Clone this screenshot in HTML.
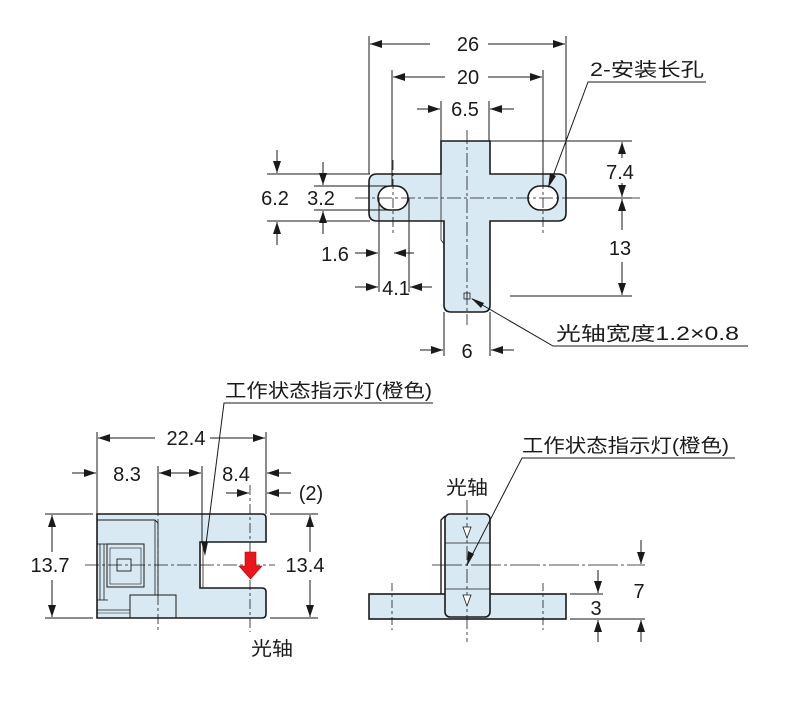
<!DOCTYPE html>
<html><head><meta charset="utf-8"><style>
html,body{margin:0;padding:0;background:#fff;}
svg{display:block;}
text{font-family:"Liberation Sans","Noto Sans CJK SC",sans-serif;fill:#1a1a1a;}
</style></head><body>
<svg width="800" height="702" viewBox="0 0 800 702" xmlns="http://www.w3.org/2000/svg">
<defs>
<marker id="a" viewBox="0 0 12 8" refX="12" refY="4" markerWidth="12" markerHeight="8" markerUnits="userSpaceOnUse" orient="auto"><path d="M0,0 L12,4 L0,8 Z" fill="#1a1a1a"/></marker>
</defs>
<g stroke="#1a1a1a" stroke-width="1" fill="none">
<!-- ===== TOP VIEW ===== -->
<path d="M377,174 H441 V141 H490 V174 H558 Q566,174 566,182 V213 Q566,221 558,221 H490 V305 Q490,312 483,312 H451 Q444,312 444,305 V221 H377 Q369,221 369,213 V182 Q369,174 377,174 Z" fill="#d9e9f3" stroke-width="1.6"/>
<path d="M441,141 V240 L444,244" stroke-width="0.8"/>
<rect x="378" y="186" width="30" height="24" rx="12" fill="#fff" stroke-width="1.6"/>
<rect x="528" y="186" width="30" height="24" rx="12" fill="#fff" stroke-width="1.6"/>
<line x1="355" y1="198" x2="640" y2="198" stroke-dasharray="14,3,3,3" stroke-width="0.8"/>
<line x1="467" y1="130" x2="467" y2="325" stroke-dasharray="14,3,3,3" stroke-width="0.8"/>
<line x1="393" y1="160" x2="393" y2="235" stroke-dasharray="10,3,3,3" stroke-width="0.8"/>
<line x1="543" y1="160" x2="543" y2="235" stroke-dasharray="10,3,3,3" stroke-width="0.8"/>
<rect x="464" y="293" width="6" height="6" stroke-width="0.8"/>
<line x1="467" y1="293" x2="467" y2="299" stroke-width="0.6"/>
<line x1="369" y1="36" x2="369" y2="174"/>
<line x1="566" y1="36" x2="566" y2="174"/>
<line x1="392" y1="70" x2="392" y2="186"/>
<line x1="543" y1="70" x2="543" y2="186"/>
<line x1="441" y1="101" x2="441" y2="141"/>
<line x1="489" y1="101" x2="489" y2="141"/>
<line x1="430" y1="44" x2="370" y2="44" marker-end="url(#a)"/>
<line x1="488" y1="44" x2="565" y2="44" marker-end="url(#a)"/>
<line x1="445" y1="77" x2="393" y2="77" marker-end="url(#a)"/>
<line x1="488" y1="77" x2="542" y2="77" marker-end="url(#a)"/>
<line x1="417" y1="109" x2="440" y2="109" marker-end="url(#a)"/>
<line x1="514" y1="109" x2="490" y2="109" marker-end="url(#a)"/>
<line x1="490" y1="141" x2="632" y2="141"/>
<line x1="566" y1="198" x2="632" y2="198"/>
<line x1="510" y1="296" x2="632" y2="296"/>
<line x1="622" y1="158" x2="622" y2="142" marker-end="url(#a)"/>
<line x1="622" y1="183" x2="622" y2="197" marker-end="url(#a)"/>
<line x1="622" y1="230" x2="622" y2="199" marker-end="url(#a)"/>
<line x1="622" y1="262" x2="622" y2="295" marker-end="url(#a)"/>
<line x1="267" y1="174" x2="370" y2="174"/>
<line x1="267" y1="221" x2="370" y2="221"/>
<line x1="277" y1="150" x2="277" y2="173" marker-end="url(#a)"/>
<line x1="277" y1="245" x2="277" y2="222" marker-end="url(#a)"/>
<line x1="314" y1="186" x2="393" y2="186"/>
<line x1="314" y1="210" x2="393" y2="210"/>
<line x1="323" y1="162" x2="323" y2="185" marker-end="url(#a)"/>
<line x1="323" y1="234" x2="323" y2="211" marker-end="url(#a)"/>
<line x1="379" y1="198" x2="379" y2="292"/>
<line x1="409" y1="198" x2="409" y2="292"/>
<line x1="355" y1="253" x2="378" y2="253" marker-end="url(#a)"/>
<line x1="414" y1="253" x2="394" y2="253" marker-end="url(#a)"/>
<line x1="355" y1="287" x2="378" y2="287" marker-end="url(#a)"/>
<line x1="432" y1="287" x2="410" y2="287" marker-end="url(#a)"/>
<line x1="444" y1="312" x2="444" y2="356"/>
<line x1="490" y1="312" x2="490" y2="356"/>
<line x1="420" y1="350" x2="443" y2="350" marker-end="url(#a)"/>
<line x1="514" y1="350" x2="491" y2="350" marker-end="url(#a)"/>
<polyline points="706,82 588,82 550,184" />
<polyline points="748,346 553,346 472,299"/>

<!-- ===== BOTTOM LEFT ===== -->
<path d="M97,514 H262 Q266,514 266,518 V542 H200 V588 H262 Q266,588 266,592 V614 Q266,618 262,618 H180 L178,618 H97 Z" fill="#d9e9f3" stroke-width="1.6"/>
<path d="M97,520 H155 L158,523 V595" stroke-width="0.9"/>
<line x1="155" y1="520" x2="155" y2="595" stroke-width="0.8"/>
<line x1="203" y1="542" x2="203" y2="588" stroke-width="0.8"/>
<line x1="100" y1="544" x2="100" y2="600" stroke-width="0.8"/>
<line x1="104" y1="544" x2="104" y2="600" stroke-width="0.8"/>
<line x1="97" y1="544" x2="108" y2="544" stroke-width="0.8"/>
<line x1="97" y1="600" x2="108" y2="600" stroke-width="0.8"/>
<rect x="107" y="544" width="37" height="43" stroke-width="1"/>
<rect x="110" y="548" width="31" height="36" stroke-width="0.6"/>
<rect x="117" y="559" width="14" height="12" stroke-width="0.9"/>
<rect x="130" y="595" width="46" height="23" stroke-width="1"/>
<line x1="97" y1="610" x2="130" y2="610" stroke-width="0.8"/>
<line x1="97" y1="613" x2="130" y2="613" stroke-width="0.5"/>
<line x1="85" y1="565" x2="275" y2="565" stroke-dasharray="14,3,3,3" stroke-width="0.8"/>
<line x1="158" y1="500" x2="158" y2="632" stroke-dasharray="10,3,3,3" stroke-width="0.8"/>
<line x1="250" y1="485" x2="250" y2="632" stroke-dasharray="10,3,3,3" stroke-width="0.8"/>
<path d="M245,552 H256 V566 H262 L250.5,579 L239,566 H245 Z" fill="#e8161a" stroke="#b00" stroke-width="0.6"/>
<line x1="97" y1="432" x2="97" y2="514"/>
<line x1="266" y1="432" x2="266" y2="514"/>
<line x1="155" y1="438" x2="98" y2="438" marker-end="url(#a)"/>
<line x1="210" y1="438" x2="265" y2="438" marker-end="url(#a)"/>
<line x1="72" y1="473" x2="96" y2="473" marker-end="url(#a)"/>
<line x1="158" y1="466" x2="158" y2="514"/>
<line x1="202" y1="466" x2="202" y2="542"/>
<line x1="180" y1="473" x2="159" y2="473" marker-end="url(#a)"/>
<line x1="180" y1="473" x2="201" y2="473" marker-end="url(#a)"/>
<line x1="291" y1="473" x2="267" y2="473" marker-end="url(#a)"/>
<line x1="226" y1="493" x2="249" y2="493" marker-end="url(#a)"/>
<line x1="291" y1="493" x2="267" y2="493" marker-end="url(#a)"/>
<line x1="45" y1="514" x2="93" y2="514"/>
<line x1="45" y1="618" x2="93" y2="618"/>
<line x1="52" y1="552" x2="52" y2="515" marker-end="url(#a)"/>
<line x1="52" y1="580" x2="52" y2="617" marker-end="url(#a)"/>
<line x1="270" y1="514" x2="318" y2="514"/>
<line x1="270" y1="618" x2="318" y2="618"/>
<line x1="310" y1="552" x2="310" y2="515" marker-end="url(#a)"/>
<line x1="310" y1="580" x2="310" y2="617" marker-end="url(#a)"/>
<polyline points="433,403 224,403 205,552"/>
<path d="M205,556 L201,541 L208,542 Z" fill="#1a1a1a" stroke="none"/>

<!-- ===== BOTTOM RIGHT ===== -->
<rect x="369" y="594" width="197" height="25" fill="#d9e9f3" stroke-width="1.6"/>
<path d="M441,594 V520 L445,516" stroke-width="1.4"/>
<rect x="445" y="514" width="45" height="103" rx="5" fill="#d9e9f3" stroke-width="1.6"/>
<line x1="445" y1="543" x2="490" y2="543" stroke-width="0.8"/>
<line x1="445" y1="589" x2="490" y2="589" stroke-width="0.8"/>
<line x1="467" y1="500" x2="467" y2="642" stroke-dasharray="14,3,3,3" stroke-width="0.8"/>
<line x1="432" y1="565" x2="645" y2="565" stroke-dasharray="30,3,3,3" stroke-width="0.8"/>
<line x1="392" y1="583" x2="392" y2="630" stroke-dasharray="8,3,3,3" stroke-width="0.8"/>
<line x1="543" y1="583" x2="543" y2="630" stroke-dasharray="8,3,3,3" stroke-width="0.8"/>
<path d="M463,527 L471,527 L467,538 Z" fill="#fff" stroke-width="0.8"/>
<path d="M463,595 L471,595 L467,606 Z" fill="#fff" stroke-width="0.8"/>
<polyline points="735,458 522,458 469,561"/>
<path d="M467,566 L468,551 L474,554 Z" fill="#1a1a1a" stroke="none"/>
<line x1="570" y1="594" x2="603" y2="594"/>
<line x1="570" y1="619" x2="645" y2="619"/>
<line x1="598" y1="570" x2="598" y2="593" marker-end="url(#a)"/>
<line x1="598" y1="642" x2="598" y2="620" marker-end="url(#a)"/>
<line x1="641" y1="540" x2="641" y2="564" marker-end="url(#a)"/>
<line x1="641" y1="642" x2="641" y2="620" marker-end="url(#a)"/>
</g>
<path d="M548,188 L550,173 L556,176 Z" fill="#1a1a1a"/>
<path d="M471,298 L484,303 L481,308 Z" fill="#1a1a1a"/>

<g font-size="20" text-anchor="middle">
<text x="468" y="51">26</text>
<text x="468" y="84">20</text>
<text x="465" y="116">6.5</text>
<text x="620" y="179">7.4</text>
<text x="620" y="255">13</text>
<text x="275" y="205">6.2</text>
<text x="321" y="205">3.2</text>
<text x="335" y="261">1.6</text>
<text x="396" y="295">4.1</text>
<text x="467" y="358">6</text>
<text x="186" y="445">22.4</text>
<text x="127" y="481">8.3</text>
<text x="236" y="481">8.4</text>
<text x="311" y="500">(2)</text>
<text x="50" y="572">13.7</text>
<text x="305" y="572">13.4</text>
<text x="639" y="598">7</text>
<text x="596" y="615">3</text>
</g>
<g font-size="19">
<text x="590" y="76" textLength="114" lengthAdjust="spacingAndGlyphs">2-安装长孔</text>
<text x="556" y="340" textLength="183" lengthAdjust="spacingAndGlyphs">光轴宽度1.2×0.8</text>
<text x="225" y="397" textLength="207" lengthAdjust="spacingAndGlyphs">工作状态指示灯(橙色)</text>
<text x="522" y="452" textLength="207" lengthAdjust="spacingAndGlyphs">工作状态指示灯(橙色)</text>
<text x="446" y="494" textLength="42" lengthAdjust="spacingAndGlyphs">光轴</text>
<text x="251" y="655" textLength="42" lengthAdjust="spacingAndGlyphs">光轴</text>
</g>
</svg>
</body></html>
